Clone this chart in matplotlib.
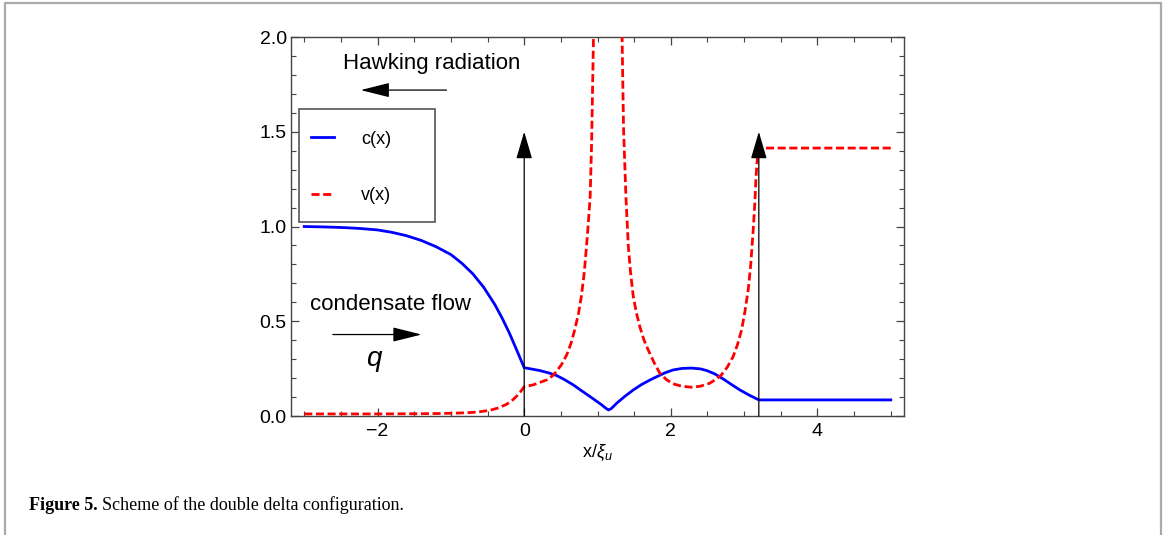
import matplotlib
matplotlib.use("Agg")
import matplotlib.pyplot as plt
from matplotlib.ticker import MultipleLocator, FormatStrFormatter
from matplotlib.lines import Line2D
from matplotlib.patches import Rectangle

plt.rcParams['font.family'] = ['Liberation Sans', 'DejaVu Sans']
plt.rcParams['mathtext.fontset'] = 'custom'
plt.rcParams['mathtext.it'] = 'Liberation Sans:italic'
plt.rcParams['mathtext.rm'] = 'Liberation Sans'

# sound speed c(x)
x_c = [-3.0, -2.75, -2.5, -2.25, -2.0, -1.8, -1.6, -1.4, -1.2, -1.0, -0.85, -0.7,
       -0.55, -0.4, -0.3, -0.2, -0.1, 0.0,
       0.1, 0.21, 0.33, 0.44, 0.55, 0.67, 0.78, 0.90, 0.98, 1.06, 1.11, 1.15, 1.19,
       1.26, 1.37, 1.49, 1.60, 1.72, 1.81, 1.92, 2.03, 2.15, 2.28, 2.40, 2.49, 2.60,
       2.72, 2.84, 2.94, 3.07, 3.2, 5.0]
c_vals = [1.0, 0.998, 0.995, 0.99, 0.982, 0.969, 0.951, 0.926, 0.893, 0.852, 0.806, 0.750,
          0.678, 0.588, 0.516, 0.436, 0.346, 0.255,
          0.248, 0.240, 0.228, 0.214, 0.192, 0.164, 0.134, 0.102, 0.080, 0.058, 0.042, 0.032, 0.040,
          0.067, 0.103, 0.138, 0.166, 0.191, 0.208, 0.228, 0.243, 0.251, 0.253, 0.249, 0.240, 0.222,
          0.194, 0.163, 0.138, 0.110, 0.085, 0.085]

# flow velocity v(x) (peak near x=1.15 runs off the top)
x_v = [-3.0, -2.0, -1.5, -1.2, -0.95, -0.74, -0.6, -0.47, -0.35, -0.24, -0.17, -0.10,
       -0.05, 0.0, 0.12, 0.31, 0.38, 0.44, 0.51, 0.58, 0.64, 0.69, 0.74, 0.78, 0.82,
       0.85, 0.875, 0.90, 0.92, 0.945, 1.15, 1.335, 1.355, 1.387, 1.42, 1.45, 1.487,
       1.53, 1.578, 1.63, 1.69, 1.77, 1.85, 1.94, 2.03, 2.15, 2.28, 2.40, 2.53, 2.62,
       2.69, 2.77, 2.85, 2.91, 2.966, 3.01, 3.056, 3.09, 3.124, 3.145, 3.16, 3.18,
       3.2, 5.0]
v_vals = [0.011, 0.011, 0.012, 0.013, 0.015, 0.018, 0.023, 0.030, 0.043, 0.062, 0.080, 0.106,
          0.128, 0.155, 0.164, 0.191, 0.210, 0.235, 0.272, 0.323, 0.385, 0.456, 0.540, 0.632, 0.760,
          0.897, 1.02, 1.162, 1.45, 2.0, 11.0, 2.0, 1.516, 1.162, 0.897, 0.760, 0.632,
          0.545, 0.470, 0.405, 0.350, 0.283, 0.226, 0.192, 0.170, 0.157, 0.152, 0.157, 0.173, 0.195,
          0.217, 0.258, 0.314, 0.378, 0.456, 0.550, 0.668, 0.800, 0.986, 1.12, 1.25, 1.36,
          1.414, 1.414]

# delta positions and arrow height
delta_x = [0.0, 3.2]
delta_h = 1.5

fig = plt.figure(figsize=(11.66, 5.35), dpi=100)
ax = fig.add_axes([0.2496, 0.2224, 0.5257, 0.7084])

ax.plot(x_c, c_vals, color='#0000ff', lw=2, label='c(x)', zorder=3)
ax.plot(x_v, v_vals, color='#ff0000', lw=2, ls=(0, (2.9, 1.3)), label='v(x)', zorder=3)

for xd in delta_x:
    ax.annotate('', xy=(xd, delta_h), xytext=(xd, 0),
                arrowprops=dict(arrowstyle='-|>,head_length=1.7,head_width=0.5',
                                mutation_scale=10, color='black', lw=0.9,
                                shrinkA=0, shrinkB=0), zorder=4)

# annotations
ax.text(-2.47, 1.86, 'Hawking radiation', fontsize=16, va='center', ha='left')
ax.annotate('', xy=(-2.23, 1.72), xytext=(-1.06, 1.72),
            arrowprops=dict(arrowstyle='-|>,head_length=1.8,head_width=0.45',
                            mutation_scale=10, color='black', lw=0.9,
                            shrinkA=0, shrinkB=0))
ax.text(-2.92, 0.588, 'condensate flow', fontsize=16, va='center', ha='left')
ax.annotate('', xy=(-1.40, 0.43), xytext=(-2.61, 0.43),
            arrowprops=dict(arrowstyle='-|>,head_length=1.8,head_width=0.45',
                            mutation_scale=10, color='black', lw=0.9,
                            shrinkA=0, shrinkB=0))
ax.text(-2.05, 0.30, 'q', fontsize=20, style='italic', va='center', ha='center')

# legend with its own frame
ax.add_patch(Rectangle((0.013, 0.512), 0.222, 0.298, transform=ax.transAxes,
                       facecolor='white', edgecolor='#555555', lw=1.2, zorder=5))
leg = ax.legend(loc='upper left', bbox_to_anchor=(0.032, 0.753), frameon=False,
                fontsize=13, handlelength=1.3, handletextpad=1.5, labelspacing=2.2,
                borderpad=0, borderaxespad=0)
leg.set_zorder(6)

ax.set_xlim(-3.18, 5.18)
ax.set_ylim(0, 2)
ax.xaxis.set_major_locator(MultipleLocator(2))
ax.xaxis.set_minor_locator(MultipleLocator(0.5))
ax.yaxis.set_major_locator(MultipleLocator(0.5))
ax.yaxis.set_minor_locator(MultipleLocator(0.1))
ax.yaxis.set_major_formatter(FormatStrFormatter('%.1f'))
ax.tick_params(which='both', direction='in', top=True, right=True, color='#444444')
ax.tick_params(which='major', length=6, width=0.9, labelsize=14)
ax.tick_params(which='minor', length=3.5, width=0.8)
ax.tick_params(axis='x', pad=5)
ax.tick_params(axis='y', pad=3)
for s in ax.spines.values():
    s.set_color('#444444')
    s.set_linewidth(1.0)
ax.set_xlabel(r'x/$\xi_u$', fontsize=13, labelpad=2)

# page border and caption
fig.add_artist(Line2D([0.0043, 0.0043, 0.9957, 0.9957], [-0.01, 0.9944, 0.9944, -0.01],
                      transform=fig.transFigure, color='#aaaaaa', lw=1.6))
t1 = fig.text(0.0249, 0.0467, 'Figure 5.', fontsize=13, fontweight='bold',
              family='Liberation Serif', va='baseline')
r = fig.canvas.get_renderer()
bb = t1.get_window_extent(renderer=r)
fig.text((bb.x1 + 4) / fig.bbox.width, 0.0467, 'Scheme of the double delta configuration.',
         fontsize=13, family='Liberation Serif', va='baseline')

fig.savefig('out.png', dpi=100)
